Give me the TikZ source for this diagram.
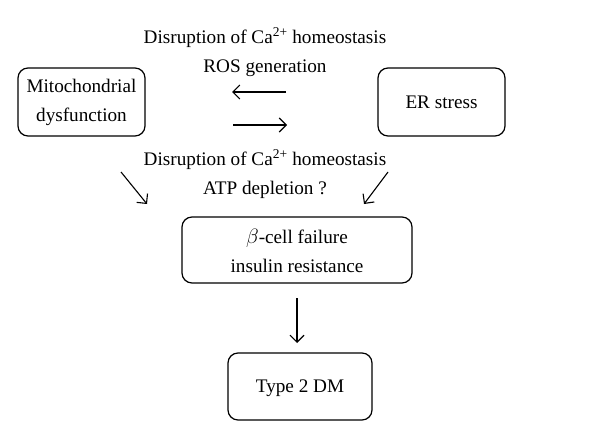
\documentclass[tikz,border=0pt]{standalone}
\usepackage{fontspec}
\setmainfont{Liberation Serif}
\usetikzlibrary{arrows.meta}
\begin{document}
\begin{tikzpicture}[x=1pt,y=-1pt,
  box/.style={draw,line width=1.2pt,rounded corners=10pt},
  txt/.style={font=\fontsize{19.2}{29}\selectfont,align=center,inner sep=0pt},
  arr/.style={-{Straight Barb[length=7pt,width=14pt]},line width=1.1pt}]
\useasboundingbox (0,0) rectangle (600,441);
\draw[box] (18,68) rectangle (145,136);
\draw[box] (378,68) rectangle (505,136);
\draw[box] (182,217) rectangle (412,283);
\draw[box] (228,353) rectangle (372,420);
\node[txt] (mito) at (81.5,102) {Mitochondrial\\dysfunction};
\node[txt] (er) at (441.5,102) {ER stress};
\node[txt] (top) at (265,52) {Disruption of Ca\textsuperscript{2+} homeostasis\\ROS generation};
\node[txt] (bot) at (265,174) {Disruption of Ca\textsuperscript{2+} homeostasis\\ATP depletion ?};
\node[txt] (beta) at (297,251) {$\beta$-cell failure\\insulin resistance};
\node[txt] (dm) at (300,388) {Type 2 DM};
\coordinate (a1) at (286,92); \coordinate (a2) at (232,92);
\coordinate (b1) at (233,125); \coordinate (b2) at (287,125);
\coordinate (c1) at (121,172); \coordinate (c2) at (147,204);
\coordinate (d1) at (388,172); \coordinate (d2) at (364,204);
\coordinate (e1) at (297,298); \coordinate (e2) at (297,343);
\draw[arr] (a1) -- (a2);
\draw[arr] (b1) -- (b2);
\draw[arr] (c1) -- (c2);
\draw[arr] (d1) -- (d2);
\draw[arr] (e1) -- (e2);
\end{tikzpicture}
\end{document}
